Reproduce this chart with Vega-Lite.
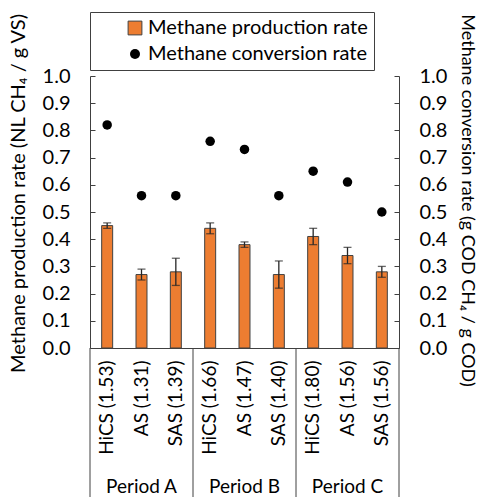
{
  "$schema": "https://vega.github.io/schema/vega-lite/v6.json",
  "width": 309,
  "height": 272,
  "autosize": "none",
  "padding": {"left": 90, "top": 76, "right": 80, "bottom": 149},
  "background": "white",
  "config": {
    "font": "Lato",
    "view": {"stroke": null},
    "axis": {
      "labelFont": "Lato", "titleFont": "Lato",
      "labelColor": "black", "titleColor": "black",
      "labelFontSize": 20, "titleFontSize": 20, "titleFontWeight": "normal",
      "domainColor": "#404040", "tickColor": "#404040", "grid": false
    }
  },
  "datasets": {
    "main": [
      {"period": "Period A", "cat": "HiCS (1.53)", "prod": 0.45, "err": 0.01, "conv": 0.82},
      {"period": "Period A", "cat": "AS (1.31)", "prod": 0.27, "err": 0.02, "conv": 0.56},
      {"period": "Period A", "cat": "SAS (1.39)", "prod": 0.28, "err": 0.05, "conv": 0.56},
      {"period": "Period B", "cat": "HiCS (1.66)", "prod": 0.44, "err": 0.02, "conv": 0.76},
      {"period": "Period B", "cat": "AS (1.47)", "prod": 0.38, "err": 0.01, "conv": 0.73},
      {"period": "Period B", "cat": "SAS (1.40)", "prod": 0.27, "err": 0.05, "conv": 0.56},
      {"period": "Period C", "cat": "HiCS (1.80)", "prod": 0.41, "err": 0.03, "conv": 0.65},
      {"period": "Period C", "cat": "AS (1.56)", "prod": 0.34, "err": 0.03, "conv": 0.61},
      {"period": "Period C", "cat": "SAS (1.56)", "prod": 0.28, "err": 0.02, "conv": 0.50}
    ],
    "periods": [
      {"period": "Period A", "mid": "AS (1.31)"},
      {"period": "Period B", "mid": "AS (1.47)"},
      {"period": "Period C", "mid": "AS (1.56)"}
    ]
  },
  "data": {"name": "main"},
  "layer": [
    {
      "mark": {"type": "bar", "width": {"band": 0.32}, "stroke": "#404040", "strokeWidth": 1},
      "encoding": {
        "x": {
          "field": "cat", "type": "nominal", "sort": null,
          "scale": {"domain": ["HiCS (1.53)", "AS (1.31)", "SAS (1.39)", "HiCS (1.66)", "AS (1.47)", "SAS (1.40)", "HiCS (1.80)", "AS (1.56)", "SAS (1.56)"], "paddingInner": 0, "paddingOuter": 0},
          "axis": {"title": null, "labelAngle": -90, "ticks": false, "labelPadding": 12, "labelFontSize": 19, "domainColor": "#404040"}
        },
        "y": {
          "field": "prod", "type": "quantitative",
          "scale": {"domain": [0, 1], "nice": false},
          "axis": {
            "title": "Methane production rate (NL CH₄ / g VS)",
            "values": [0, 0.1, 0.2, 0.3, 0.4, 0.5, 0.6, 0.7, 0.8, 0.9, 1.0],
            "format": ".1f", "tickSize": -5, "labelPadding": 25,
            "titlePadding": 14, "titleY": 117
          }
        },
        "color": {
          "datum": "Methane production rate",
          "scale": {"domain": ["Methane production rate", "Methane conversion rate"], "range": ["#ED7D31", "black"]},
          "legend": {
            "title": null, "orient": "none", "legendX": 0, "legendY": -64,
            "direction": "vertical",
            "strokeColor": "#404040", "padding": 6,
            "symbolOffset": 29, "labelOffset": 3, "rowPadding": 6,
            "labelFont": "Lato", "labelFontSize": 20, "labelColor": "black", "labelLimit": 400,
            "labelExpr": "datum.label + '\u00a0\u00a0\u00a0\u00a0\u00a0\u00a0'",
            "symbolStrokeColor": "#404040",
            "encode": {
              "symbols": {
                "update": {
                  "shape": {"signal": "datum.value === 'Methane production rate' ? 'square' : 'circle'"},
                  "size": {"signal": "datum.value === 'Methane production rate' ? 190 : 100"},
                  "strokeWidth": {"signal": "datum.value === 'Methane production rate' ? 1 : 0"}
                }
              }
            }
          }
        }
      }
    },
    {
      "mark": {"type": "errorbar", "ticks": {"size": 8, "color": "#262626"}, "rule": {"color": "#262626"}, "thickness": 1.3},
      "encoding": {
        "x": {"field": "cat", "type": "nominal", "sort": null, "scale": {"domain": ["HiCS (1.53)", "AS (1.31)", "SAS (1.39)", "HiCS (1.66)", "AS (1.47)", "SAS (1.40)", "HiCS (1.80)", "AS (1.56)", "SAS (1.56)"], "paddingInner": 0, "paddingOuter": 0}},
        "y": {"field": "prod", "type": "quantitative", "scale": {"domain": [0, 1], "nice": false}, "axis": null},
        "yError": {"field": "err"}
      }
    },
    {
      "mark": {"type": "point", "filled": true, "size": 90, "opacity": 1},
      "encoding": {
        "x": {"field": "cat", "type": "nominal", "sort": null, "scale": {"domain": ["HiCS (1.53)", "AS (1.31)", "SAS (1.39)", "HiCS (1.66)", "AS (1.47)", "SAS (1.40)", "HiCS (1.80)", "AS (1.56)", "SAS (1.56)"], "paddingInner": 0, "paddingOuter": 0}},
        "y": {
          "field": "conv", "type": "quantitative",
          "scale": {"domain": [0, 1], "nice": false},
          "axis": {
            "orient": "right",
            "title": "Methane conversion rate (g COD CH₄ / g COD)",
            "titleFontSize": 18,
            "values": [0, 0.1, 0.2, 0.3, 0.4, 0.5, 0.6, 0.7, 0.8, 0.9, 1.0],
            "format": ".1f", "tickSize": -5, "labelPadding": 25,
            "titlePadding": 11, "titleY": 124
          }
        },
        "color": {"datum": "Methane conversion rate"}
      }
    },
    {
      "transform": [{"filter": "indexof(datum.cat, 'HiCS') === 0"}],
      "mark": {"type": "rule", "color": "#404040", "strokeWidth": 1},
      "encoding": {
        "x": {"field": "cat", "type": "nominal", "sort": null, "bandPosition": 0, "scale": {"domain": ["HiCS (1.53)", "AS (1.31)", "SAS (1.39)", "HiCS (1.66)", "AS (1.47)", "SAS (1.40)", "HiCS (1.80)", "AS (1.56)", "SAS (1.56)"], "paddingInner": 0, "paddingOuter": 0}},
        "y": {"datum": 0, "scale": {"domain": [0, 1], "nice": false}, "axis": null},
        "y2": {"datum": -0.55}
      }
    },
    {
      "transform": [{"filter": "datum.cat === 'SAS (1.56)'"}],
      "mark": {"type": "rule", "color": "#404040", "strokeWidth": 1},
      "encoding": {
        "x": {"field": "cat", "type": "nominal", "sort": null, "bandPosition": 1, "scale": {"domain": ["HiCS (1.53)", "AS (1.31)", "SAS (1.39)", "HiCS (1.66)", "AS (1.47)", "SAS (1.40)", "HiCS (1.80)", "AS (1.56)", "SAS (1.56)"], "paddingInner": 0, "paddingOuter": 0}},
        "y": {"datum": 0, "scale": {"domain": [0, 1], "nice": false}, "axis": null},
        "y2": {"datum": -0.55}
      }
    },
    {
      "data": {"name": "periods"},
      "mark": {"type": "text", "font": "Lato", "fontSize": 19, "color": "black", "baseline": "middle"},
      "encoding": {
        "x": {"field": "mid", "type": "nominal", "sort": null, "scale": {"domain": ["HiCS (1.53)", "AS (1.31)", "SAS (1.39)", "HiCS (1.66)", "AS (1.47)", "SAS (1.40)", "HiCS (1.80)", "AS (1.56)", "SAS (1.56)"], "paddingInner": 0, "paddingOuter": 0}},
        "y": {"datum": -0.511, "scale": {"domain": [0, 1], "nice": false}, "axis": null},
        "text": {"field": "period"}
      }
    }
  ],
  "resolve": {"scale": {"y": "independent"}}
}
